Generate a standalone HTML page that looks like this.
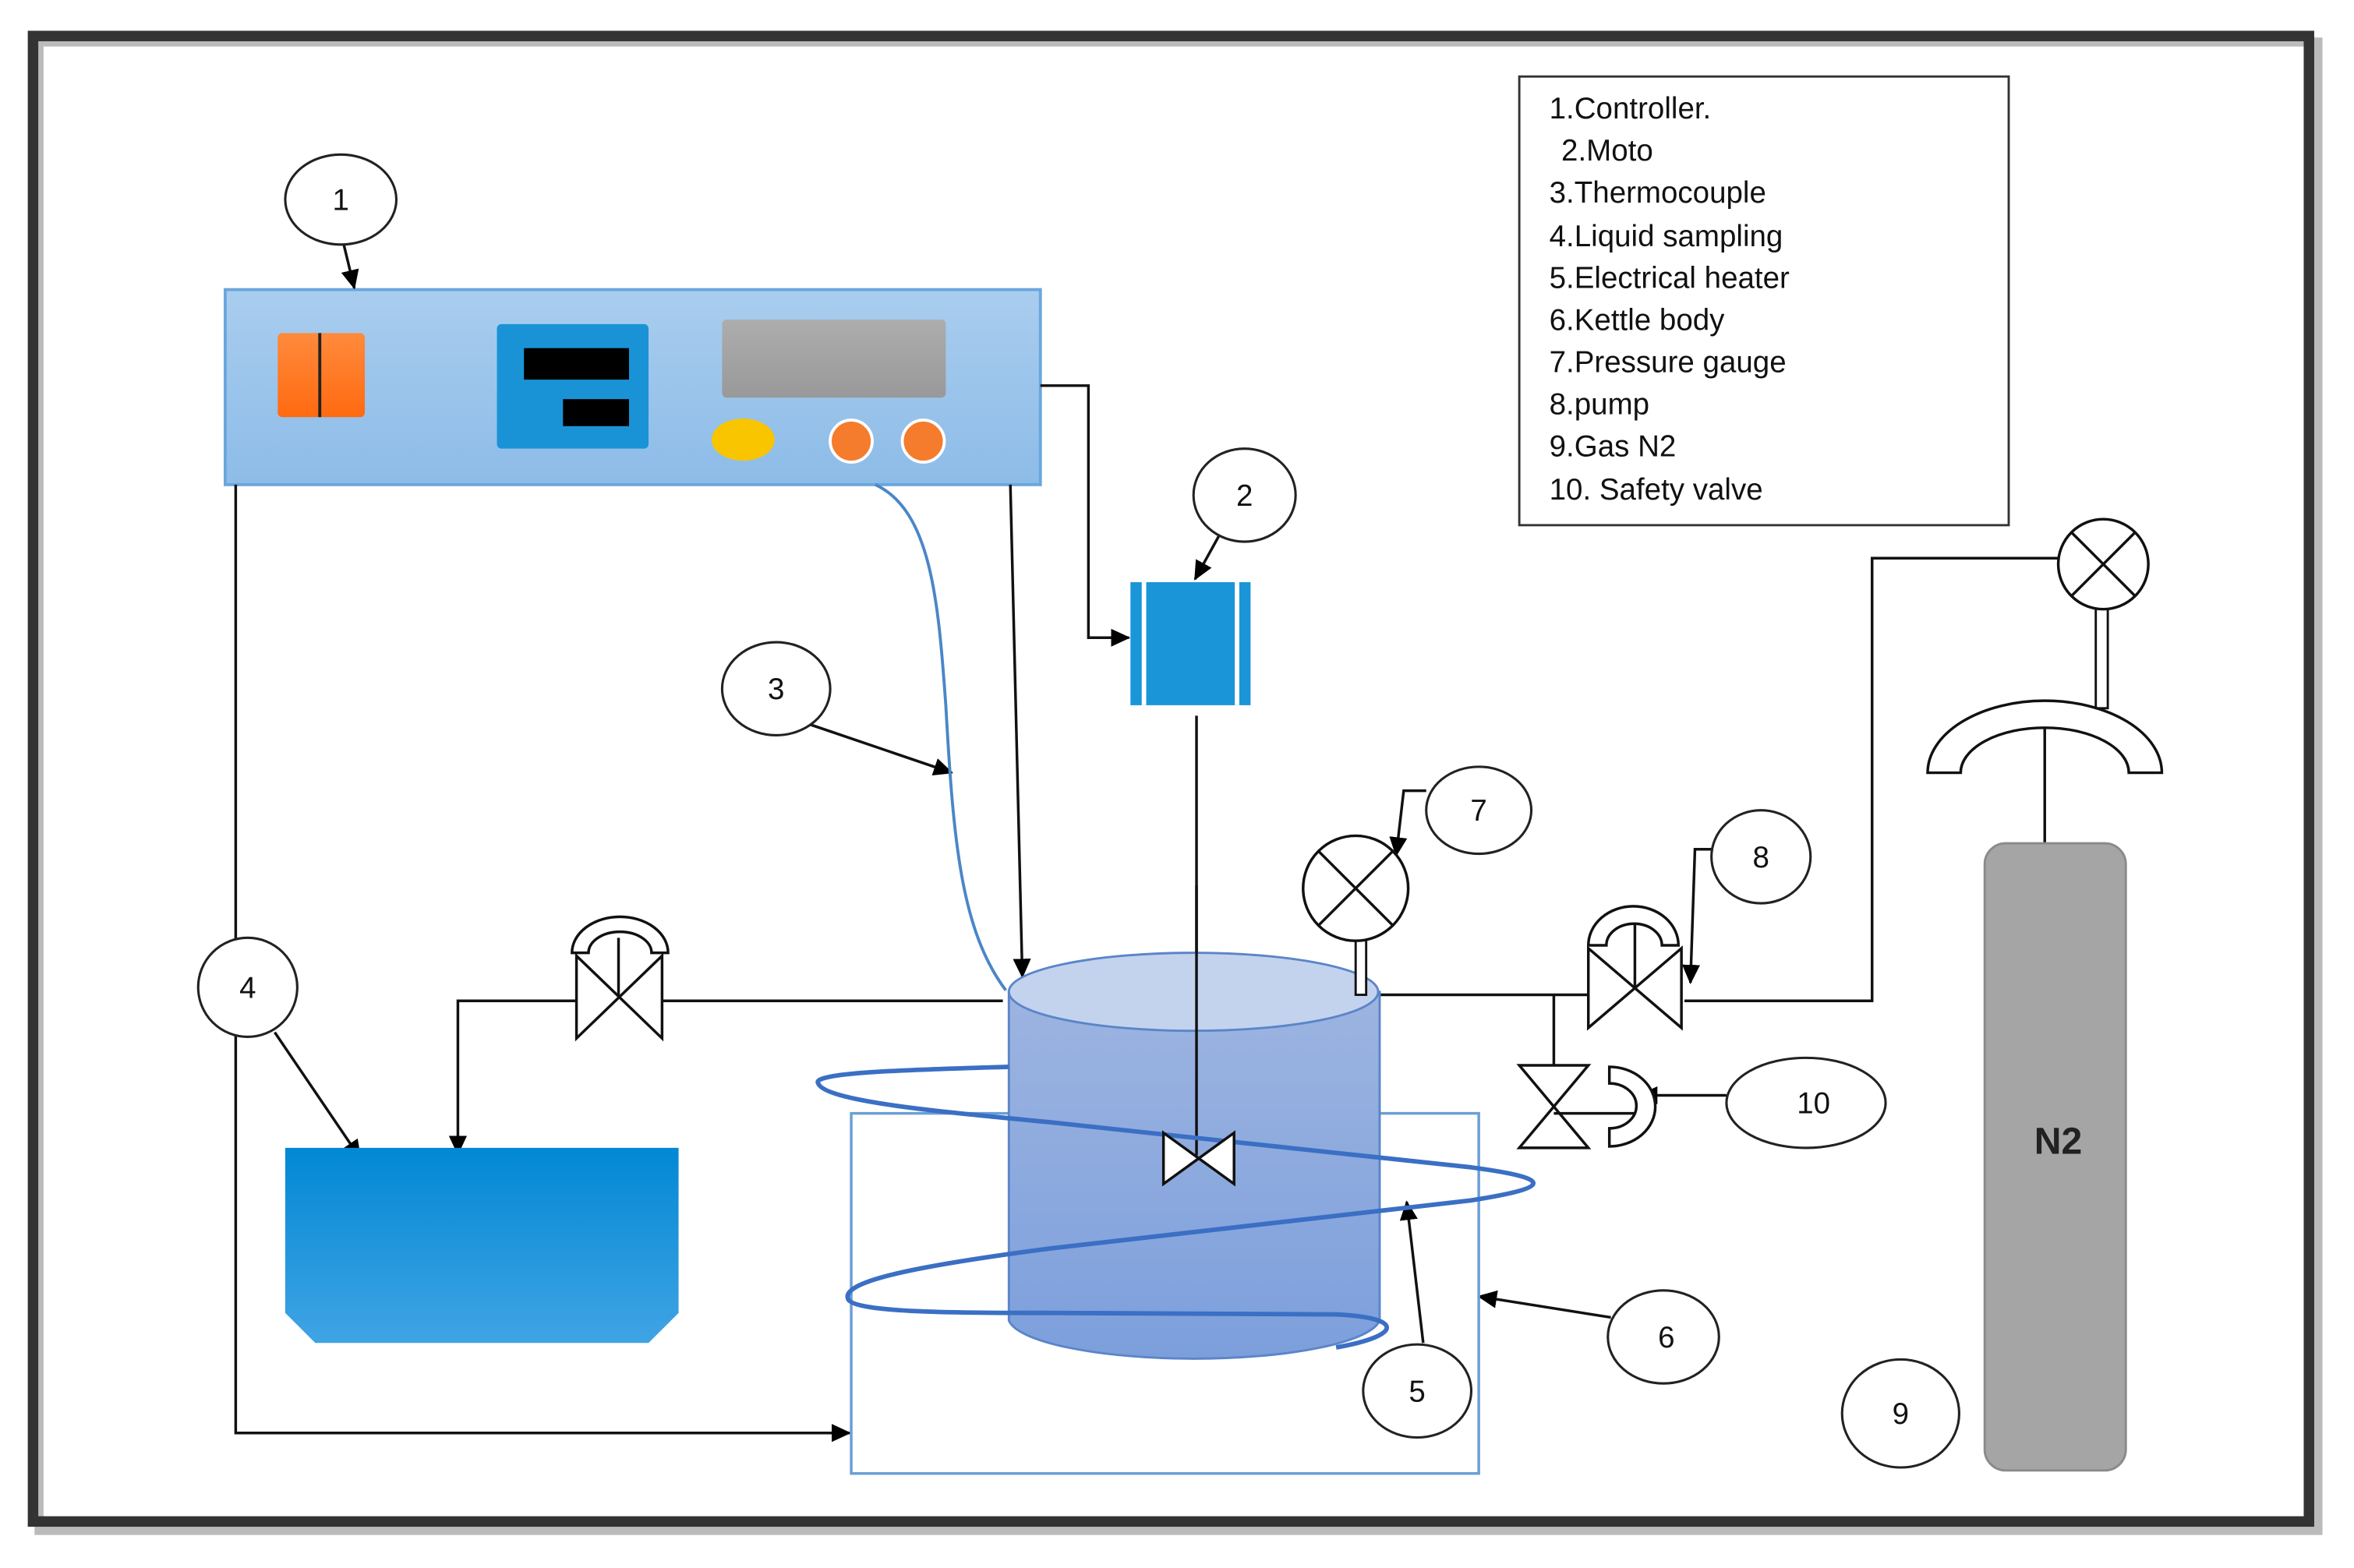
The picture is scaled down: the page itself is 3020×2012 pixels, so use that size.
<!DOCTYPE html>
<html><head><meta charset="utf-8"><style>
html,body{margin:0;padding:0;background:#fff;}
svg{display:block;}
text{font-family:"Liberation Sans",sans-serif;}
</style></head><body>
<svg width="3020" height="2012" viewBox="0 0 1568 1045" preserveAspectRatio="none" xmlns="http://www.w3.org/2000/svg">
<defs>
<marker id="a" markerWidth="13" markerHeight="12" refX="12" refY="6" orient="auto" markerUnits="userSpaceOnUse"><path d="M0,0 L13,6 L0,12 Z" fill="#000"/></marker>
<linearGradient id="ctl" x1="0" y1="0" x2="0" y2="1"><stop offset="0" stop-color="#a9cdee"/><stop offset="1" stop-color="#8dbce8"/></linearGradient>
<linearGradient id="tank" x1="0" y1="0" x2="0" y2="1"><stop offset="0" stop-color="#0288d4"/><stop offset="1" stop-color="#40a4e4"/></linearGradient>
<linearGradient id="cyl" x1="0" y1="0" x2="0" y2="1"><stop offset="0" stop-color="#9db4e0"/><stop offset="1" stop-color="#7c9fdc"/></linearGradient>
<linearGradient id="gray" x1="0" y1="0" x2="0" y2="1"><stop offset="0" stop-color="#adadad"/><stop offset="1" stop-color="#999"/></linearGradient>
<linearGradient id="org" x1="0" y1="0" x2="0" y2="1"><stop offset="0" stop-color="#ff8a3c"/><stop offset="1" stop-color="#ff6a10"/></linearGradient>
</defs>
<rect x="0" y="0" width="1568" height="1045" fill="#fff"/>
<rect x="26" y="28" width="1518" height="992" fill="none" stroke="#bbb" stroke-width="6"/>
<rect x="22" y="24" width="1516" height="990" fill="none" stroke="#333" stroke-width="7"/>

<!-- legend -->
<rect x="1012" y="51" width="326" height="299" fill="#fff" stroke="#333" stroke-width="1.5"/>
<g font-size="20" fill="#111">
<text x="1032" y="79">1.Controller.</text>
<text x="1040" y="107">2.Moto</text>
<text x="1032" y="135">3.Thermocouple</text>
<text x="1032" y="164">4.Liquid sampling</text>
<text x="1032" y="192">5.Electrical heater</text>
<text x="1032" y="220">6.Kettle body</text>
<text x="1032" y="248">7.Pressure gauge</text>
<text x="1032" y="276">8.pump</text>
<text x="1032" y="304">9.Gas N2</text>
<text x="1032" y="333">10.  Safety valve</text>
</g>

<!-- controller -->
<rect x="150" y="193" width="543" height="130" fill="url(#ctl)" stroke="#6aa6dc" stroke-width="2"/>
<rect x="185" y="222" width="58" height="56" rx="3" fill="url(#org)"/>
<line x1="213" y1="222" x2="213" y2="278" stroke="#222" stroke-width="2"/>
<rect x="331" y="216" width="101" height="83" rx="3" fill="#1a93d6"/>
<rect x="349" y="232" width="70" height="21" fill="#000"/>
<rect x="375" y="266" width="44" height="18" fill="#000"/>
<rect x="481" y="213" width="149" height="52" rx="3" fill="url(#gray)"/>
<ellipse cx="495" cy="293" rx="21" ry="14" fill="#f9c400"/>
<circle cx="567" cy="294" r="14" fill="#f47c2c" stroke="#fff" stroke-width="2"/>
<circle cx="615" cy="294" r="14" fill="#f47c2c" stroke="#fff" stroke-width="2"/>

<g stroke="#111" stroke-width="1.8" fill="none">
<line x1="229" y1="163" x2="236" y2="192" marker-end="url(#a)"/>
<polyline points="693,257 725,257 725,425 752,425" marker-end="url(#a)"/>
<line x1="812" y1="357" x2="796" y2="386" marker-end="url(#a)"/>
<line x1="797" y1="477" x2="797" y2="770"/>
<line x1="673" y1="323" x2="681" y2="651" marker-end="url(#a)"/>
<line x1="540" y1="483" x2="634" y2="515" marker-end="url(#a)"/>
<polyline points="157,323 157,955 566,955" marker-end="url(#a)"/>
<line x1="183" y1="688" x2="240" y2="772" marker-end="url(#a)"/>
<line x1="441" y1="667" x2="668" y2="667"/>
<polyline points="384,667 305,667 305,769" marker-end="url(#a)"/>
<polyline points="950,527 935,527 930,570" marker-end="url(#a)"/>
<line x1="910" y1="663" x2="1060" y2="663"/>
<polyline points="1140,566 1129,566 1126,655" marker-end="url(#a)"/>
<polyline points="1122,667 1247,667 1247,372 1372,372"/>
<line x1="1035" y1="663" x2="1035" y2="710"/>
<line x1="1150" y1="730" x2="1092" y2="730" marker-end="url(#a)"/>
<line x1="1073" y1="878" x2="985" y2="864" marker-end="url(#a)"/>
<line x1="948" y1="895" x2="937" y2="801" marker-end="url(#a)"/>
<line x1="1362" y1="468" x2="1362" y2="562"/>
</g>

<g fill="#fff" stroke="#222" stroke-width="1.6">
<ellipse cx="227" cy="133" rx="37" ry="30"/>
<ellipse cx="829" cy="330" rx="34" ry="31"/>
<ellipse cx="517" cy="459" rx="36" ry="31"/>
<ellipse cx="165" cy="658" rx="33" ry="33"/>
<ellipse cx="985" cy="540" rx="35" ry="29"/>
<ellipse cx="1173" cy="571" rx="33" ry="31"/>
<ellipse cx="1203" cy="735" rx="53" ry="30"/>
<ellipse cx="1108" cy="891" rx="37" ry="31"/>
<ellipse cx="944" cy="927" rx="36" ry="31"/>
<ellipse cx="1266" cy="942" rx="39" ry="36"/>
</g>
<g font-size="20" fill="#111" text-anchor="middle">
<text x="227" y="140">1</text><text x="829" y="337">2</text><text x="517" y="466">3</text>
<text x="165" y="665">4</text><text x="985" y="547">7</text><text x="1173" y="578">8</text>
<text x="1208" y="742">10</text><text x="1110" y="898">6</text><text x="944" y="934">5</text>
<text x="1266" y="949">9</text>
</g>

<!-- thermocouple -->
<path d="M583,323 C620,340 625,400 630,470 C635,560 640,620 670,660" fill="none" stroke="#4a86c8" stroke-width="2"/>

<!-- motor -->
<rect x="753" y="388" width="80" height="82" fill="#1a95d8"/>
<line x1="762" y1="388" x2="762" y2="470" stroke="#fff" stroke-width="3"/>
<line x1="824" y1="388" x2="824" y2="470" stroke="#fff" stroke-width="3"/>

<!-- liquid tank -->
<path d="M190,765 L452,765 L452,875 L432,895 L210,895 L190,875 Z" fill="url(#tank)"/>

<!-- kettle body rect -->
<rect x="567" y="742" width="418" height="240" fill="none" stroke="#6a9fd4" stroke-width="1.8"/>

<!-- cylinder -->
<path d="M672,661 L672,880 A124,28 0 0 0 919,880 L919,661 Z" fill="url(#cyl)" stroke="#5b85c8" stroke-width="1.5"/>
<ellipse cx="795" cy="661" rx="123" ry="26" fill="#c3d3ee" stroke="#5b85c8" stroke-width="1.5"/>
<line x1="797" y1="590" x2="797" y2="770" stroke="#111" stroke-width="1.8"/>
<!-- coil -->
<path d="M672,711 C600,713 540,715 545,722 C550,735 640,742 700,748 L980,778 C1040,786 1030,792 980,800 L700,832 C600,845 560,855 565,866 C570,875 640,875 700,875 L890,876 C935,878 935,890 890,898" fill="none" stroke="#3a6fc4" stroke-width="3"/>
<!-- agitator valve -->
<path d="M775,755 L822,789 L822,755 L775,789 Z" fill="#fff" stroke="#111" stroke-width="1.8"/>

<!-- sampling valve -->
<path d="M384,637 L441,692 L441,637 L384,692 Z" fill="#fff" stroke="#111" stroke-width="1.8"/>
<line x1="412" y1="625" x2="412" y2="664" stroke="#111" stroke-width="1.8"/>
<path d="M381,635 A32,24 0 0 1 445,635 L434,635 A21,14 0 0 0 392,635 Z" fill="#fff" stroke="#111" stroke-width="1.8"/>

<!-- pressure gauge 7 -->
<rect x="903" y="624" width="7" height="39" fill="#fff" stroke="#111" stroke-width="1.5"/>
<circle cx="903" cy="592" r="35" fill="#fff" stroke="#111" stroke-width="1.8"/>
<path d="M878,567 L928,617 M928,567 L878,617" stroke="#111" stroke-width="1.8"/>

<!-- pump valve 8 -->
<path d="M1058,632 L1120,685 L1120,632 L1058,685 Z" fill="#fff" stroke="#111" stroke-width="1.8"/>
<line x1="1089" y1="612" x2="1089" y2="658" stroke="#111" stroke-width="1.8"/>
<path d="M1058,630 A30,26 0 0 1 1118,630 L1107,630 A18,14 0 0 0 1070,630 Z" fill="#fff" stroke="#111" stroke-width="1.8"/>

<!-- safety valve 10 -->
<path d="M1012,710 L1058,710 L1012,765 L1058,765 Z" fill="#fff" stroke="#111" stroke-width="1.8"/>
<line x1="1035" y1="742" x2="1090" y2="742" stroke="#111" stroke-width="1.8"/>
<path d="M1072,711 A30,26 0 0 1 1072,764 L1072,752 A18,15 0 0 0 1072,722 Z" fill="#fff" stroke="#111" stroke-width="1.8"/>

<!-- top right gauge -->
<rect x="1396" y="404" width="8" height="68" fill="#fff" stroke="#111" stroke-width="1.5"/>
<circle cx="1401" cy="376" r="30" fill="#fff" stroke="#111" stroke-width="1.8"/>
<path d="M1380,355 L1422,397 M1422,355 L1380,397" stroke="#111" stroke-width="1.8"/>
<!-- regulator -->
<path d="M1284,515 A78,48 0 0 1 1440,515 L1418,515 A56,30 0 0 0 1306,515 Z" fill="#fff" stroke="#111" stroke-width="1.8"/>

<!-- N2 cylinder -->
<rect x="1322" y="562" width="94" height="418" rx="14" fill="#a5a5a5" stroke="#8a8a8a" stroke-width="1.5"/>
<text x="1371" y="769" font-size="25" font-weight="bold" text-anchor="middle" fill="#222">N2</text>
</svg>
</body></html>
